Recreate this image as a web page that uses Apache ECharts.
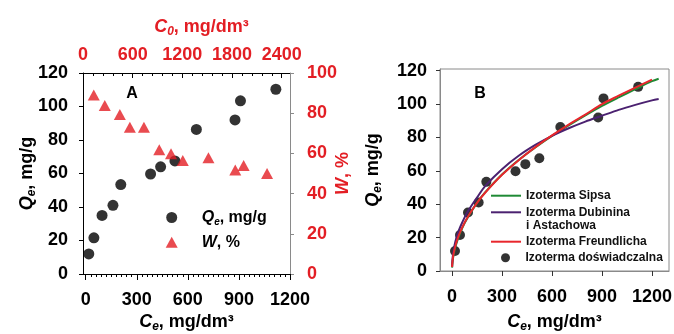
<!DOCTYPE html>
<html>
<head>
<meta charset="utf-8">
<script src="https://cdn.jsdelivr.net/npm/echarts@6/dist/echarts.min.js"></script>
<style>
  html, body { margin: 0; padding: 0; background: #fff; }
  #chart { width: 674px; height: 334px; }
</style>
</head>
<body>
<div id="chart"></div>
<script>
// experimental points (panel A circles, also panel B dots)
const ceExp = [18, 48, 96, 160, 206, 381, 440, 524, 650, 877, 909, 1117];
const qeExp = [12, 21.6, 35, 41, 53.4, 59.7, 64, 67.5, 86.3, 92, 103.4, 110.3];
// removal efficiency vs initial concentration (panel A triangles)
const c0 = [130, 263, 445, 566, 736, 921, 1063, 1205, 1515, 1839, 1940, 2223];
const wPct = [89, 83.8, 79.4, 73, 73, 61.8, 59.8, 56.5, 57.8, 51.8, 54, 50];
// fitted isotherms
const ceFit = [0.5, 2, 5, 10, 20, 35, 50, 75, 100, 150, 200, 300, 400, 500, 600, 700, 800, 900, 1000, 1100, 1200, 1240];
const sipsQ = [2, 4, 6.8, 9.8, 14.2, 19, 23, 28.5, 33, 40.8, 47.2, 57.8, 66.5, 74, 80.9, 87.2, 93.2, 98.9, 104, 108.9, 113.7, 115.2];
const dubininQ = [2.5, 5.5, 9, 12.5, 17.5, 22.5, 26.5, 32, 36.5, 44, 51, 61, 69, 75.5, 81, 85.5, 89.5, 93, 96.5, 99.5, 102.2, 103];
const freundlichQ = [2.4, 4.8, 7.5, 10.6, 15, 19.8, 23.6, 28.9, 33.3, 40.8, 47, 57.6, 66.4, 74.2, 81.2, 87.7, 93.7, 100, 105, 109.9, 114.6, null];
// tick labels
const ceTicks = [0, 300, 600, 900, 1200];
const c0Ticks = [0, 600, 1200, 1800, 2400];
const qTicks = [0, 20, 40, 60, 80, 100, 120];

const FONT = "'Liberation Sans', Arial, sans-serif";
const RED = '#e31e24';
const GRAY = '#8a8a8a';

const ceMinor = Array.from({ length: 41 }, (_, i) => i * 30);
const c0Minor = Array.from({ length: 21 }, (_, i) => i * 120);

const rich = (color, size, lead) => ({
  i: { fontStyle: 'italic', fontWeight: 'bold', fontSize: size, fontFamily: FONT, color, padding: [0, 0, 0, lead || 0] },
  s: { fontStyle: 'italic', fontWeight: 'bold', fontSize: Math.round(size * 0.65), fontFamily: FONT, color, padding: [9, 0, 0, 0], lineHeight: size },
  n: { fontWeight: 'bold', fontSize: size, fontFamily: FONT, color },
});
const labelStyle = (color) => ({ fontSize: 18, fontWeight: 'bold', fontFamily: FONT, color, formatter: (v) => String(v) });
const zip = (xs, ys) => xs.map((x, i) => [x, ys[i]]);
const legendText = { fontSize: 12, fontWeight: 'bold', fontFamily: FONT, color: '#111' };
const gridBase = { outerBoundsMode: 'none', containLabel: false };

const chart = echarts.init(document.getElementById('chart'));
chart.setOption({
  animation: false,
  backgroundColor: '#fff',
  grid: [
    { ...gridBase, left: 83, top: 73, right: 384, bottom: 60 },
    { ...gridBase, left: 83, top: 73, right: 384, bottom: 60 },
    { ...gridBase, left: 440, top: 69, right: 5, bottom: 63, show: true, borderColor: GRAY, borderWidth: 1 },
  ],
  xAxis: [
    {
      gridIndex: 0, type: 'value', position: 'bottom', min: -16, max: 1200,
      axisLine: { onZero: false, lineStyle: { color: '#000' } },
      axisTick: { customValues: ceTicks, length: 6, lineStyle: { color: '#000' } },
      axisLabel: { customValues: ceTicks, margin: 17, ...labelStyle('#000') },
      splitLine: { show: false },
      name: '{i|C}{s|e}{n|, mg/dm³}', nameLocation: 'middle', nameGap: 39, nameMoveOverlap: false,
      nameTextStyle: { rich: rich('#000', 18) },
    },
    {
      gridIndex: 0, type: 'value', position: 'top', min: 0, max: 2500,
      axisLine: { onZero: false, lineStyle: { color: '#000' } },
      axisTick: { customValues: c0Ticks, inside: true, length: 5, lineStyle: { color: '#000' } },
      axisLabel: { customValues: c0Ticks, margin: 9, ...labelStyle(RED) },
      splitLine: { show: false },
      name: '{i|C}{s|0}{n|, mg/dm³}', nameLocation: 'middle', nameGap: 37, nameMoveOverlap: false,
      nameTextStyle: { rich: rich(RED, 18, 30) },
    },
    {
      gridIndex: 1, type: 'value', position: 'bottom', min: -16, max: 1200,
      axisLine: { show: false, onZero: false }, axisLabel: { show: false }, splitLine: { show: false },
      axisTick: { customValues: ceMinor, length: 3, lineStyle: { color: '#000' } },
    },
    {
      gridIndex: 1, type: 'value', position: 'top', min: 0, max: 2500,
      axisLine: { show: false, onZero: false }, axisLabel: { show: false }, splitLine: { show: false },
      axisTick: { customValues: c0Minor, inside: true, length: 3, lineStyle: { color: '#000' } },
    },
    {
      gridIndex: 2, type: 'value', position: 'bottom', min: -72, max: 1302,
      axisLine: { onZero: false, lineStyle: { color: GRAY } },
      axisTick: { customValues: ceTicks, length: 5, lineStyle: { color: '#333' } },
      axisLabel: { customValues: ceTicks, margin: 17, ...labelStyle('#000') },
      splitLine: { show: false },
      name: '{i|C}{s|e}{n|, mg/dm³}', nameLocation: 'middle', nameGap: 42, nameMoveOverlap: false,
      nameTextStyle: { rich: rich('#000', 18) },
    },
  ],
  yAxis: [
    {
      gridIndex: 0, type: 'value', position: 'left', min: 0, max: 120, interval: 20,
      axisLine: { show: true, onZero: false, lineStyle: { color: '#000' } },
      axisTick: { show: true, length: 4, lineStyle: { color: '#000' } },
      axisLabel: { margin: 15, ...labelStyle('#000') },
      splitLine: { show: false },
      name: '{i|Q}{s|e}{n|, mg/g}', nameLocation: 'middle', nameGap: 47, nameMoveOverlap: false,
      nameTextStyle: { rich: rich('#000', 18) },
    },
    {
      gridIndex: 0, type: 'value', position: 'right', min: 0, max: 100, interval: 20,
      axisLine: { show: true, onZero: false, lineStyle: { color: GRAY } },
      axisTick: { show: true, length: 4, lineStyle: { color: GRAY } },
      axisLabel: { margin: 17, ...labelStyle(RED) },
      splitLine: { show: false },
      name: '{i|W}{n|, %}', nameLocation: 'middle', nameGap: 44, nameMoveOverlap: false,
      nameTextStyle: { rich: rich(RED, 18) },
    },
    { gridIndex: 1, type: 'value', min: 0, max: 120, show: false },
    {
      gridIndex: 2, type: 'value', position: 'left', min: 0, max: 121,
      axisLine: { show: true, onZero: false, lineStyle: { color: GRAY } },
      axisTick: { show: true, customValues: qTicks, length: 4, lineStyle: { color: '#333' } },
      axisLabel: { customValues: qTicks, margin: 13, ...labelStyle('#000') },
      splitLine: { show: false },
      name: '{i|Q}{s|e}{n|, mg/g}', nameLocation: 'middle', nameGap: 58, nameMoveOverlap: false,
      nameTextStyle: { rich: rich('#000', 18) },
    },
  ],
  legend: [
    {
      data: ['Qe, mg/g', 'W, %'], orient: 'vertical', left: 165.7, top: 208, padding: 0,
      itemWidth: 12, itemHeight: 11, itemGap: 7.3, selectedMode: false,
      formatter: (n) => n === 'W, %' ? '{i|W}{n|, %}' : '{i|Q}{s|e}{n|, mg/g}',
      textStyle: { rich: rich('#000', 16, 19) },
    },
    {
      data: ['Izoterma Sipsa', 'Izoterma Dubinina'], orient: 'vertical', left: 491, top: 189.7, padding: 0,
      icon: 'rect', itemWidth: 30, itemHeight: 2, itemGap: 4.6, selectedMode: false, textStyle: legendText,
    },
    {
      data: ['Izoterma Freundlicha'], orient: 'vertical', left: 491, top: 235.7, padding: 0,
      icon: 'rect', itemWidth: 30, itemHeight: 2, selectedMode: false, textStyle: legendText,
    },
    {
      data: ['Izoterma doświadczalna'], orient: 'vertical', left: 501, top: 251.7, padding: 0,
      icon: 'circle', itemWidth: 30, itemHeight: 9, selectedMode: false, textStyle: legendText,
    },
  ],
  graphic: [
    { type: 'text', x: 132, y: 94, style: { text: 'A', font: 'bold 16px ' + FONT, fill: '#000', align: 'center', verticalAlign: 'middle' } },
    { type: 'text', x: 480, y: 94, style: { text: 'B', font: 'bold 16px ' + FONT, fill: '#000', align: 'center', verticalAlign: 'middle' } },
    { type: 'text', x: 526, y: 226, style: { text: 'i Astachowa', font: 'bold 12px ' + FONT, fill: '#111', align: 'left', verticalAlign: 'middle' } },
  ],
  series: [
    {
      name: 'Qe, mg/g', type: 'scatter', xAxisIndex: 0, yAxisIndex: 0,
      data: zip(ceExp, qeExp), symbol: 'circle', symbolSize: 11, itemStyle: { color: '#000' },
    },
    {
      name: 'W, %', type: 'scatter', xAxisIndex: 1, yAxisIndex: 1,
      data: zip(c0, wPct), symbol: 'triangle', symbolSize: [12, 11], itemStyle: { color: RED },
    },
    {
      name: 'Izoterma Sipsa', type: 'line', xAxisIndex: 4, yAxisIndex: 3, data: zip(ceFit, sipsQ),
      symbol: 'none', smooth: 0.3, lineStyle: { color: '#1f8a35', width: 2 }, itemStyle: { color: '#1f8a35' },
    },
    {
      name: 'Izoterma Dubinina', type: 'line', xAxisIndex: 4, yAxisIndex: 3, data: zip(ceFit, dubininQ),
      symbol: 'none', smooth: 0.3, lineStyle: { color: '#4b2170', width: 2 }, itemStyle: { color: '#4b2170' },
    },
    {
      name: 'Izoterma Freundlicha', type: 'line', xAxisIndex: 4, yAxisIndex: 3, data: zip(ceFit, freundlichQ),
      symbol: 'none', smooth: 0.3, lineStyle: { color: '#e8262c', width: 2 }, itemStyle: { color: '#e8262c' },
    },
    {
      name: 'Izoterma doświadczalna', type: 'scatter', xAxisIndex: 4, yAxisIndex: 3,
      data: zip(ceExp, qeExp), symbol: 'circle', symbolSize: 10, itemStyle: { color: '#000' },
    },
  ],
});
</script>
</body>
</html>
